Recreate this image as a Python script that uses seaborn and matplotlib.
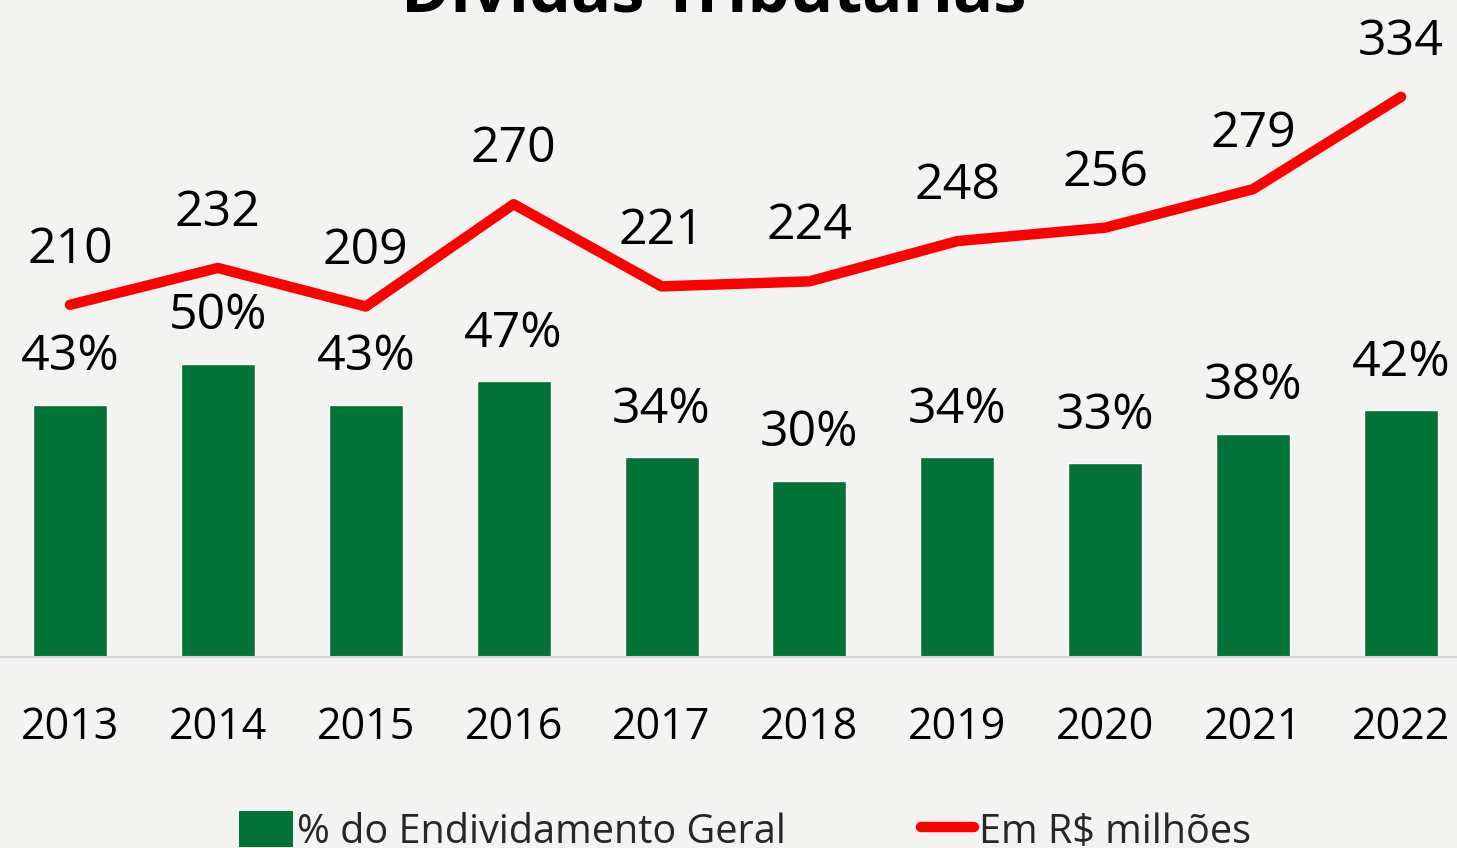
import matplotlib
matplotlib.use("Agg")
import matplotlib.pyplot as plt
import seaborn as sns
import pandas as pd
from matplotlib.lines import Line2D
from matplotlib.patches import Patch

years = ["2013", "2014", "2015", "2016", "2017", "2018", "2019", "2020", "2021", "2022"]
share_pct = [43, 50, 43, 47, 34, 30, 34, 33, 38, 42]
amount_mi = [210, 232, 209, 270, 221, 224, 248, 256, 279, 334]

title = "Dívidas Tributárias"
bar_label = "% do Endividamento Geral"
line_label = "Em R$ milhões"

GREEN = "#037236"
RED = "#ff0000"
BG = "#f3f3f2"

sns.set_theme(style="white")
plt.rcParams["font.family"] = ["Open Sans", "DejaVu Sans"]

df = pd.DataFrame({"ano": years, "pct": share_pct, "valor": amount_mi})

W, H = 1457, 848
fig = plt.figure(figsize=(W / 100, H / 100), dpi=100, facecolor=BG)
# axes spans slightly beyond the figure so the outer bars sit at the edges
x0, x1 = -4, 1475
y_base, y_top = 657, 60
ax = fig.add_axes([x0 / W, 1 - y_base / H, (x1 - x0) / W, (y_base - y_top) / H])
ax.set_facecolor("none")

sns.barplot(data=df, x="ano", y="pct", color=GREEN, width=0.5, saturation=1, ax=ax)
ax.set_xlim(-0.5, 9.5)
ax.set_ylim(0, (y_base - y_top) / 5.87)

ax2 = ax.twinx()
ax2.set_facecolor("none")
sns.lineplot(x=list(range(len(years))), y=amount_mi, color=RED, linewidth=7.5,
             solid_capstyle="round", solid_joinstyle="round", ax=ax2)
ax2.set_ylim(0, (y_base - y_top) / 1.677)

for i, v in enumerate(share_pct):
    ax.annotate(f"{v}%", (i, v), xytext=(0, 34), textcoords="offset points",
                ha="center", va="center", fontsize=36, color="black", annotation_clip=False)
for i, v in enumerate(amount_mi):
    ax2.annotate(f"{v}", (i, v), xytext=(0, 39.5), textcoords="offset points",
                 ha="center", va="center", fontsize=36, color="black", annotation_clip=False)

for a in (ax, ax2):
    a.set_yticks([])
    a.set_ylabel("")
    a.set_xlabel("")
    for s in ("top", "left", "right"):
        a.spines[s].set_visible(False)
ax2.spines["bottom"].set_visible(False)
ax.spines["bottom"].set_color("#d4d4d4")
ax.spines["bottom"].set_linewidth(1.5)
ax.tick_params(axis="x", length=0, pad=35, labelsize=31, labelcolor="black")

fig.text(714 / W, 1 - 12 / H, title, ha="center", va="baseline",
         fontsize=48, fontweight="bold", color="black")

handles = [Patch(facecolor=GREEN, edgecolor="none"),
           Line2D([0], [0], color=RED, linewidth=7.5, solid_capstyle="round")]
fig.legend(handles, [bar_label, line_label], loc="center",
           bbox_to_anchor=(745 / W, 1 - 832 / H), ncol=2, frameon=False,
           fontsize=28.5, handlelength=1.35, handleheight=1.0, handletextpad=0.12,
           columnspacing=3.4)

fig.savefig("out.png", dpi=100, facecolor=BG)
